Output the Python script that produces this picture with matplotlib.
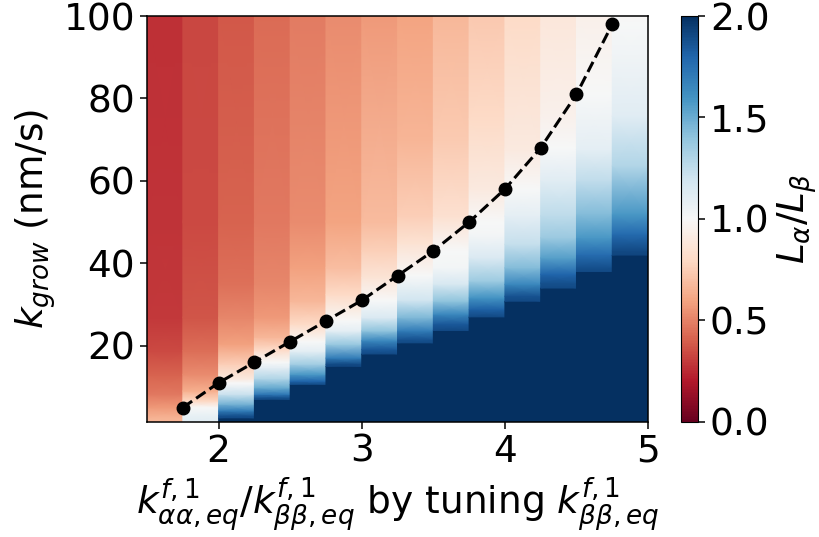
import matplotlib
matplotlib.use("Agg")
import matplotlib.pyplot as plt
import numpy as np
from matplotlib.cm import ScalarMappable
from matplotlib.colors import Normalize

# crossing points (L_alpha/L_beta = 1) for each ratio
ratio_pts = [1.75, 2.0, 2.25, 2.5, 2.75, 3.0, 3.25, 3.5, 3.75, 4.0, 4.25, 4.5, 4.75]
kgrow_pts = [5, 11, 16, 21, 26, 31, 37, 43, 50, 58, 68, 81, 98]

# heatmap columns: left edge of column, k_grow knots, L_alpha/L_beta read at knots
col_x = [1.5, 1.75, 2.0, 2.25, 2.5, 2.75, 3.0, 3.25, 3.5, 3.75, 4.0, 4.25, 4.5, 4.75]
col_k = [
    [1.5, 2.5, 5, 8.2, 13, 18.8, 26.8, 50, 100.5],
    [1.5, 3, 5, 6.6, 9, 13, 18.8, 26.8, 50, 100.5],
    [1.5, 2.5, 2.5, 3, 4.2, 5.8, 8.2, 10.6, 11, 12, 15.5, 20.3, 26.8, 34.9, 50, 100.5],
    [1.5, 7, 7, 7.4, 8.2, 9.8, 12, 14.7, 16, 18.8, 22, 26.8, 34.9, 50, 100.5],
    [1.5, 10.6, 10.6, 11.4, 13, 15.5, 18.7, 21, 25.2, 30.8, 38.9, 50, 100.5],
    [1.5, 15, 15, 15.5, 17, 20.3, 23.6, 26, 32.4, 38.9, 50, 100.5],
    [1.5, 18, 18, 19.1, 21.2, 23.6, 26.8, 31, 36.5, 43, 50, 100.5],
    [1.5, 20.7, 20.7, 21.5, 23.6, 26.8, 31, 37, 45, 51.5, 70, 100.5],
    [1.5, 23.7, 23.7, 25.2, 27.6, 30.8, 34.9, 38.9, 43, 51.5, 70, 100.5],
    [1.5, 27, 27, 28.8, 31.6, 35.7, 41.3, 47, 50, 58, 75, 100.5],
    [1.5, 30.8, 30.8, 32, 34.9, 38.9, 44.6, 51.5, 58, 67.6, 100.5],
    [1.5, 34, 34, 35.2, 37.3, 41.3, 46.2, 51.5, 60, 68, 75.7, 100.5],
    [1.5, 38, 38, 39, 42.1, 46.2, 51.9, 60, 67.6, 81, 100.5],
    [1.5, 42, 42, 43, 47, 51.9, 63.6, 75.7, 88, 98, 100.5],
]
col_v = [
    [0.67, 0.65, 0.57, 0.47, 0.41, 0.34, 0.29, 0.28, 0.27],
    [1.12, 1.08, 1.0, 0.79, 0.64, 0.53, 0.44, 0.37, 0.34, 0.33],
    [2, 2, 1.9, 1.88, 1.7, 1.47, 1.22, 1.02, 1.0, 0.9, 0.75, 0.59, 0.51, 0.45, 0.41, 0.38],
    [2, 2, 1.9, 1.88, 1.72, 1.5, 1.3, 1.1, 1.0, 0.82, 0.67, 0.57, 0.51, 0.47, 0.43],
    [2, 2, 1.9, 1.8, 1.58, 1.35, 1.1, 1.0, 0.8, 0.67, 0.59, 0.53, 0.48],
    [2, 2, 1.92, 1.9, 1.7, 1.38, 1.1, 1.0, 0.8, 0.69, 0.6, 0.53],
    [2, 2, 1.9, 1.85, 1.65, 1.4, 1.15, 1.0, 0.86, 0.76, 0.68, 0.57],
    [2, 2, 1.9, 1.87, 1.7, 1.45, 1.2, 1.0, 0.85, 0.75, 0.66, 0.6],
    [2, 2, 1.9, 1.85, 1.65, 1.4, 1.17, 1.03, 1.0, 0.84, 0.74, 0.67],
    [2, 2, 1.9, 1.82, 1.6, 1.36, 1.15, 1.02, 1.0, 0.9, 0.8, 0.73],
    [2, 2, 1.9, 1.87, 1.65, 1.43, 1.24, 1.1, 1.0, 0.9, 0.8],
    [2, 2, 1.9, 1.88, 1.8, 1.55, 1.37, 1.26, 1.12, 1.0, 0.95, 0.88],
    [2, 2, 1.9, 1.88, 1.77, 1.58, 1.43, 1.25, 1.1, 1.0, 0.94],
    [2, 2, 1.92, 1.9, 1.78, 1.58, 1.3, 1.12, 1.05, 1.0, 0.99],
]
col_w = 0.25

plt.rcParams["font.size"] = 27
cmap = plt.get_cmap("RdBu")
norm = Normalize(vmin=0, vmax=2)

fig = plt.figure(figsize=(8.2, 5.37), dpi=100)
ax = fig.add_axes([0.1793, 0.2142, 0.6110, 0.7560])
cax = fig.add_axes([0.8305, 0.2142, 0.0207, 0.7560])

for x0, ks, vs in zip(col_x, col_k, col_v):
    X, Y = np.meshgrid([x0, x0 + col_w], ks)
    C = np.column_stack([vs, vs])
    ax.pcolormesh(X, Y, C, cmap=cmap, norm=norm, shading="gouraud")

ax.plot(ratio_pts, kgrow_pts, "k--o", lw=2.2, ms=9)

ax.set_xlim(1.5, 5)
ax.set_ylim(1.5, 100)
ax.set_xticks([2, 3, 4, 5])
ax.set_yticks([20, 40, 60, 80, 100])
ax.tick_params(length=5, width=1.1)
for s in ax.spines.values():
    s.set_linewidth(1.1)
ax.set_xlabel(r"$k^{f,1}_{\alpha\alpha,eq}/k^{f,1}_{\beta\beta,eq}$ by tuning $k^{f,1}_{\beta\beta,eq}$")
ax.set_ylabel(r"$k_{grow}$ (nm/s)")

cb = fig.colorbar(ScalarMappable(norm=norm, cmap=cmap), cax=cax)
cb.set_ticks([0, 0.5, 1.0, 1.5, 2.0])
cb.set_label(r"$L_{\alpha}/L_{\beta}$")
cb.ax.tick_params(length=5, width=1.1)

fig.savefig("out.png", dpi=100)
